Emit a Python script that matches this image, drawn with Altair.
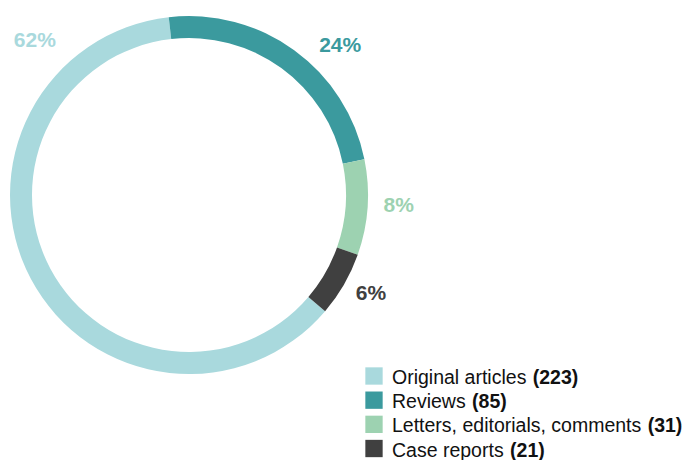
import math
import altair as alt
import pandas as pd

# ---- data ----
categories = ["Original articles", "Reviews", "Letters, editorials, comments", "Case reports"]
counts = [223, 85, 31, 21]
percent_labels = ["62%", "24%", "8%", "6%"]
colors = ["#a9d9dd", "#3b9a9e", "#9dd2b1", "#404040"]
ring_order = [3, 0, 1, 2]          # clockwise drawing order of the ring
label_angles_deg = [-45, 45.5, 93, 118.5]
label_radii = [218, 212, 210, 207]

# ---- layout ----
CX, CY = 181, 187
R_OUT, R_IN = 179, 157
START = math.radians(-6.5)
FONT = "Liberation Sans"
LEG_FS = 19.5
LEG_X_SQ = 366
LEG_X_TXT = 384

ARIAL = {' ': 278, 'O': 778, 'r': 333, 'i': 222, 'g': 556, 'n': 556, 'a': 556, 'l': 222,
         't': 278, 'c': 500, 'e': 556, 's': 500, 'R': 722, 'v': 500, 'w': 722, 'L': 556,
         ',': 278, 'd': 556, 'o': 556, 'm': 833, 'C': 722, 'p': 556}


def text_width(s, size):
    return sum(ARIAL.get(ch, 556) for ch in s) * size / 1000.0


df = pd.DataFrame({
    "category": categories,
    "count": counts,
    "pct": percent_labels,
    "ring_order": ring_order,
    "label_theta": [math.radians(a) for a in label_angles_deg],
    "label_r": label_radii,
    "row": list(range(len(categories))),
})
df["normal"] = [c + " " for c in categories]
df["bold"] = [f"({n})" for n in counts]
df["bold_x"] = [LEG_X_TXT + text_width(c + " ", LEG_FS) + 1 for c in categories]

color_scale = alt.Scale(domain=categories, range=colors)
row_y = alt.Y("row:Q", scale=alt.Scale(domain=[0, 3], range=[368, 440.5]), axis=None)

base = alt.Chart(df)

ring = base.mark_arc(outerRadius=R_OUT, innerRadius=R_IN).encode(
    theta=alt.Theta("count:Q", stack=True,
                    scale=alt.Scale(range=[START, START + 2 * math.pi])),
    color=alt.Color("category:N", scale=color_scale, legend=None),
    order=alt.Order("ring_order:Q"),
    x=alt.value(CX),
    y=alt.value(CY),
)

pct = base.mark_text(font=FONT, fontSize=21, fontWeight="bold",
                     align="center", baseline="middle").encode(
    theta=alt.Theta("label_theta:Q", scale=None),
    radius=alt.Radius("label_r:Q", scale=None),
    text="pct:N",
    color=alt.Color("category:N", scale=color_scale, legend=None),
    x=alt.value(CX),
    y=alt.value(CY),
)

squares = base.mark_square(size=300, opacity=1, filled=True).encode(
    x=alt.value(LEG_X_SQ),
    y=row_y,
    color=alt.Color("category:N", scale=color_scale, legend=None),
)

leg_normal = base.mark_text(font=FONT, fontSize=LEG_FS, align="left",
                            baseline="alphabetic", dy=8, color="#111111").encode(
    x=alt.value(LEG_X_TXT),
    y=row_y,
    text="normal:N",
)

leg_bold = base.mark_text(font=FONT, fontSize=LEG_FS, fontWeight="bold", align="left",
                          baseline="alphabetic", dy=8, color="#111111").encode(
    x=alt.X("bold_x:Q", scale=None),
    y=row_y,
    text="bold:N",
)

chart = alt.layer(ring, pct, squares, leg_normal, leg_bold).resolve_scale(
    theta="independent", radius="independent"
).properties(
    width=676, height=452,
    autosize=alt.AutoSizeParams(type="none"),
    padding=0,
    background="white",
).configure_view(stroke=None)

chart.save("out.html", embed_options={"renderer": "svg", "actions": False})
